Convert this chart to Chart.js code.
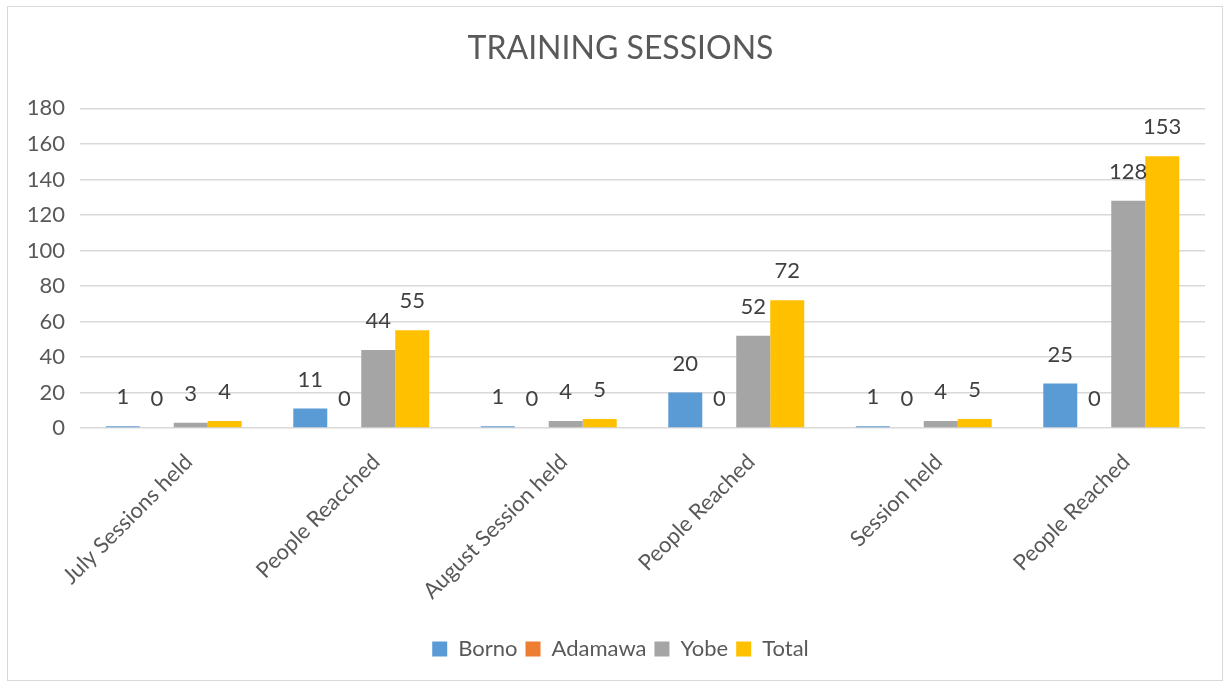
<!DOCTYPE html>
<html>
<head>
<meta charset="utf-8">
<script src="https://cdn.jsdelivr.net/npm/chart.js@4"></script>
<style>
  body { margin: 0; background: #fff; }
  #frame { position: absolute; left: 7px; top: 6px; width: 1214px; height: 673px; border: 1px solid #d9d9d9; }
</style>
</head>
<body>
<div id="frame"><canvas id="trainingChart"></canvas></div>
<script>
const categories = ['July Sessions held', 'People Reacched', 'August Session held', 'People Reached', 'Session held', 'People Reached'];
const borno = [1, 11, 1, 20, 1, 25];
const adamawa = [0, 0, 0, 0, 0, 0];
const yobe = [3, 44, 4, 52, 4, 128];
const total = [4, 55, 5, 72, 5, 153];
const yTicks = [0, 20, 40, 60, 80, 100, 120, 140, 160, 180];

const font = 'Lato';
const textColor = '#595959';

// value labels drawn above each bar
const barValues = {
  id: 'barValues',
  afterDatasetsDraw(chart) {
    const ctx = chart.ctx;
    ctx.save();
    ctx.font = '22px ' + font;
    ctx.fillStyle = '#404040';
    ctx.textAlign = 'center';
    ctx.textBaseline = 'middle';
    chart.data.datasets.forEach((ds, i) => {
      chart.getDatasetMeta(i).data.forEach((bar, j) => {
        ctx.fillText(String(ds.data[j]), bar.x, bar.y - 29);
      });
    });
    ctx.restore();
  }
};

// title and legend sit a bit right of the canvas centre, like the original
const centreShift = {
  id: 'centreShift',
  afterLayout(chart) {
    [chart.titleBlock, chart.legend].forEach(b => {
      if (b) { b.left += 14; b.right += 14; }
    });
  }
};

new Chart(document.getElementById('trainingChart'), {
  type: 'bar',
  data: {
    labels: categories,
    datasets: [
      { label: 'Borno', data: borno, backgroundColor: '#5b9bd5' },
      { label: 'Adamawa', data: adamawa, backgroundColor: '#ed7d31' },
      { label: 'Yobe', data: yobe, backgroundColor: '#a5a5a5' },
      { label: 'Total', data: total, backgroundColor: '#ffc000' }
    ]
  },
  options: {
    responsive: true, maintainAspectRatio: false, animation: false,
    layout: { padding: { left: 0, right: 17, top: 0, bottom: 10 } },
    datasets: { bar: { barPercentage: 1, categoryPercentage: 0.725 } },
    plugins: {
      title: { display: true, text: 'TRAINING SESSIONS', color: textColor, font: { family: font, size: 32, weight: 'normal' }, padding: { top: 22, bottom: 41 } },
      legend: { position: 'bottom', labels: { color: textColor, font: { family: font, size: 22 }, boxWidth: 15, boxHeight: 15, padding: 8 } },
      tooltip: { enabled: false }
    },
    scales: {
      x: {
        grid: { display: false },
        border: { display: false },
        ticks: { color: textColor, font: { family: font, size: 22 }, minRotation: 45, maxRotation: 45, padding: 13, labelOffset: 15 },
        afterFit: s => { s.height = 202; }
      },
      y: {
        min: 0, max: 180,
        afterBuildTicks: s => { s.ticks = yTicks.map(v => ({ value: v })); },
        grid: { color: '#d9d9d9', lineWidth: 1.5, drawTicks: false },
        border: { display: false },
        ticks: { color: textColor, font: { family: font, size: 22 }, padding: 15 },
        afterFit: s => { s.width = 72; }
      }
    }
  },
  plugins: [barValues, centreShift]
});
</script>
</body>
</html>
